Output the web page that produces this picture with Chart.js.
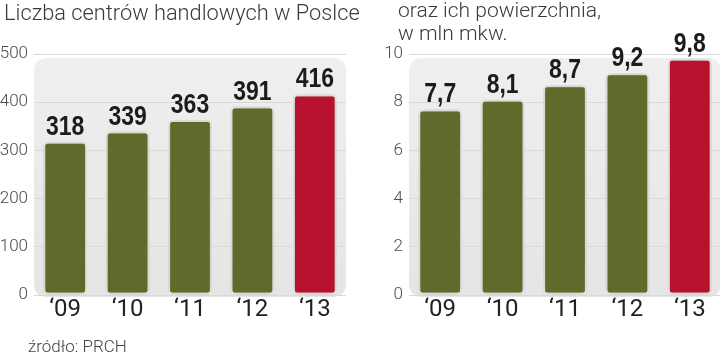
<!DOCTYPE html>
<html>
<head>
<meta charset="utf-8">
<script src="https://cdn.jsdelivr.net/npm/chart.js@4"></script>
<style>
  html, body { margin: 0; padding: 0; background: #ffffff; overflow: hidden; width: 720px; height: 357px; }
  #wrap { position: relative; width: 720px; height: 357px; overflow: hidden; }
  canvas { position: absolute; top: 0; }
  .txt { position: absolute; font-family: Roboto, "Liberation Sans", sans-serif; font-weight: 300; color: #3a3a3a; white-space: nowrap; }
</style>
</head>
<body>
<div id="wrap">
  <canvas id="c1" width="360" height="357" style="left:0px;width:360px;height:357px"></canvas>
  <canvas id="c2" width="362" height="357" style="left:360px;width:362px;height:357px"></canvas>
  <div class="txt" id="t1" style="left:4px;top:0px;font-size:21.8px;line-height:26px;">Liczba centrów handlowych w Poslce</div>
  <div class="txt" id="t2" style="left:398px;top:-1px;font-size:21px;line-height:23px;">oraz ich powierzchnia,<br>w mln mkw.</div>
  <div class="txt" id="src" style="left:28px;top:336px;font-size:17px;line-height:20px;color:#444;">źródło: PRCH</div>
</div>
<script>
// ---- data ----
const years = ["‘09", "‘10", "‘11", "‘12", "‘13"];
const centersCount = [318, 339, 363, 391, 416];
const areaMlnSqm = [7.7, 8.1, 8.7, 9.2, 9.8];
const countTicksMax = 500;
const areaTicksMax = 10;

const OLIVE = '#5f6a2b';
const RED = '#b8112e';
const barColors = years.map((_, i) => i === years.length - 1 ? RED : OLIVE);

const boxPlugin = {
  id: 'box',
  beforeDraw(chart) {
    const { ctx, chartArea } = chart;
    const top = chartArea.top + 4, bottom = chartArea.bottom + 2;
    const left = chartArea.left, right = chartArea.right;
    const r = 14;
    ctx.save();
    const g = ctx.createLinearGradient(0, top, 0, bottom);
    g.addColorStop(0, '#efefef');
    g.addColorStop(1, '#e5e5e5');
    ctx.fillStyle = g;
    ctx.beginPath();
    ctx.moveTo(left + r, top);
    ctx.lineTo(right - r, top);
    ctx.quadraticCurveTo(right, top, right, top + r);
    ctx.lineTo(right, bottom - r);
    ctx.quadraticCurveTo(right, bottom, right - r, bottom);
    ctx.lineTo(left + r, bottom);
    ctx.quadraticCurveTo(left, bottom, left, bottom - r);
    ctx.lineTo(left, top + r);
    ctx.quadraticCurveTo(left, top, left + r, top);
    ctx.closePath();
    ctx.fill();
    ctx.restore();
  }
};

const shadowPlugin = {
  id: 'barShadow',
  beforeDatasetsDraw(chart) {
    const ctx = chart.ctx;
    ctx.save();
    ctx.shadowColor = 'rgba(0,0,0,0.28)';
    ctx.shadowBlur = 6;
    ctx.shadowOffsetX = 0;
    ctx.shadowOffsetY = 0;
  },
  afterDatasetsDraw(chart) {
    chart.ctx.restore();
  }
};

const valueLabelPlugin = {
  id: 'valueLabels',
  afterDraw(chart, args, opts) {
    const ctx = chart.ctx;
    const meta = chart.getDatasetMeta(0);
    const data = chart.data.datasets[0].data;
    const sx = 0.82;
    ctx.save();
    ctx.font = 'bold 28px "Liberation Sans", Arial, sans-serif';
    ctx.fillStyle = '#1c1c1c';
    ctx.textAlign = 'center';
    ctx.textBaseline = 'alphabetic';
    meta.data.forEach((bar, i) => {
      ctx.save();
      ctx.translate(bar.x, bar.y - 7);
      ctx.scale(sx, 1);
      ctx.fillText(opts.format(data[i]), 0, 0);
      ctx.restore();
    });
    ctx.restore();
  }
};

function makeChart(id, values, max, step, yWidth, padRight, fmt) {
  return new Chart(document.getElementById(id), {
    type: 'bar',
    data: {
      labels: years,
      datasets: [{
        data: values,
        backgroundColor: barColors,
        borderColor: '#f3f2ea',
        borderWidth: 2,
        borderRadius: 4,
        borderSkipped: false,
        barPercentage: 0.7,
        categoryPercentage: 1.0
      }]
    },
    options: {
      responsive: false,
      animation: false,
      devicePixelRatio: 1,
      layout: { padding: { top: 54, right: padRight, bottom: 0, left: 0 } },
      plugins: {
        legend: { display: false },
        tooltip: { enabled: false },
        valueLabels: { format: fmt }
      },
      scales: {
        x: {
          grid: { display: false, drawTicks: false },
          border: { display: false },
          ticks: {
            padding: 1,
            color: '#222222',
            font: { family: 'Roboto, "Liberation Sans", sans-serif', size: 24 }
          },
          afterFit(axis) { axis.height = 62; }
        },
        y: {
          min: 0,
          max: max,
          grid: { color: '#d9d9d9', lineWidth: 1, drawTicks: false },
          border: { display: false },
          ticks: {
            stepSize: step,
            padding: 6,
            color: '#4a4a4a',
            font: { family: 'Roboto, "Liberation Sans", sans-serif', size: 17, weight: 300 }
          },
          afterFit(axis) { axis.width = yWidth; }
        }
      }
    },
    plugins: [boxPlugin, shadowPlugin, valueLabelPlugin]
  });
}

makeChart('c1', centersCount, countTicksMax, 100, 34, 14, v => String(v));
makeChart('c2', areaMlnSqm, areaTicksMax, 2, 49, 1, v => v.toFixed(1).replace('.', ','));
</script>
</body>
</html>
